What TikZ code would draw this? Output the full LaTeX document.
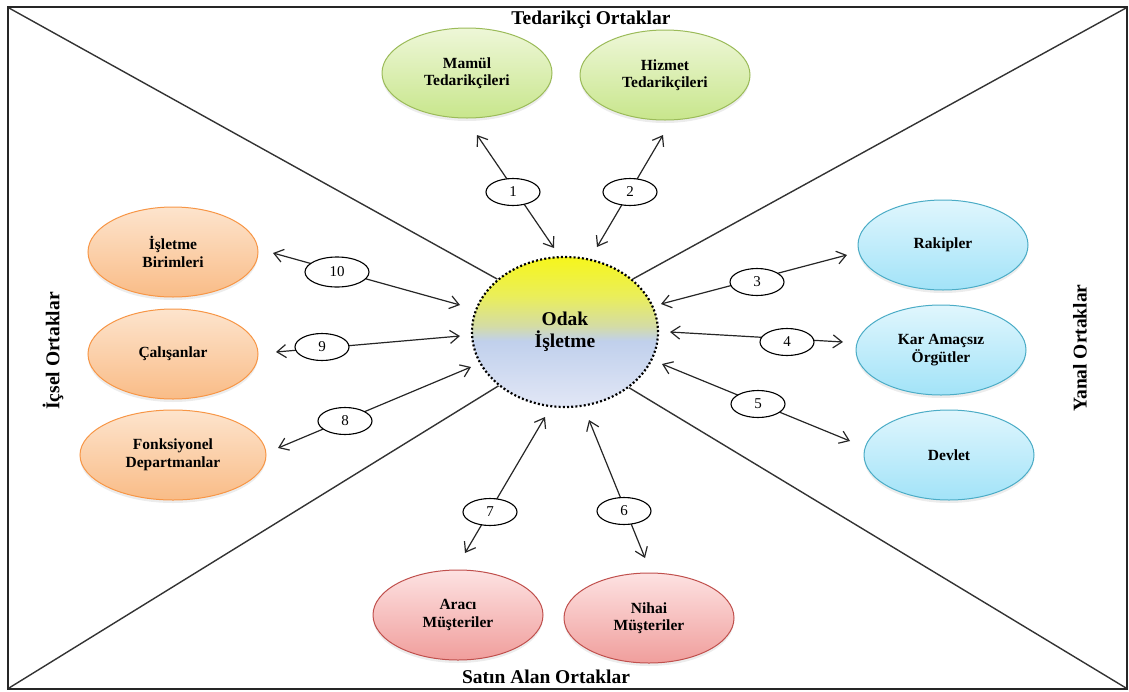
\documentclass[tikz,border=0pt]{standalone}
\usepackage{fontspec}
\setmainfont{Liberation Serif}
\usetikzlibrary{shapes.geometric,arrows.meta,shadows}

% palette
\definecolor{grtop}{RGB}{238,247,216}
\definecolor{grbot}{RGB}{200,230,140}
\definecolor{grline}{RGB}{155,187,89}
\definecolor{ortop}{RGB}{253,228,205}
\definecolor{orbot}{RGB}{249,188,135}
\definecolor{orline}{RGB}{247,150,70}
\definecolor{bltop}{RGB}{224,246,253}
\definecolor{blbot}{RGB}{162,227,248}
\definecolor{blline}{RGB}{75,172,198}
\definecolor{pktop}{RGB}{253,226,226}
\definecolor{pkbot}{RGB}{240,158,156}
\definecolor{pkline}{RGB}{192,80,77}
\definecolor{oy}{RGB}{246,246,28}
\definecolor{oy2}{RGB}{234,238,90}
\definecolor{og}{RGB}{212,220,165}
\definecolor{ob}{RGB}{192,208,236}
\definecolor{ob2}{RGB}{226,231,246}

% focal firm fill: yellow on top, pale blue below
\pgfdeclareverticalshading{odakshade}{100bp}{%
  color(0bp)=(ob2); color(25bp)=(ob2); color(47bp)=(ob);
  color(52bp)=(og); color(62bp)=(oy2); color(75bp)=(oy); color(100bp)=(oy)}

\tikzset{
  frame/.style={line width=1.5pt, draw=black!85},
  diag/.style={line width=1.4pt, draw=black!80},
  partner/.style={ellipse, minimum width=170pt, minimum height=90pt, inner sep=0pt,
    line width=1pt, align=center,
    font=\bfseries\fontsize{15.5}{17.5}\selectfont,
    drop shadow={opacity=0.15, shadow xshift=0pt, shadow yshift=-3pt}},
  green/.style={partner, draw=grline, top color=grtop, bottom color=grbot},
  orange/.style={partner, draw=orline, top color=ortop, bottom color=orbot},
  blue/.style={partner, draw=blline, top color=bltop, bottom color=blbot},
  pink/.style={partner, draw=pkline, top color=pktop, bottom color=pkbot},
  focal/.style={ellipse, minimum width=186pt, minimum height=150pt, inner sep=0pt,
    shading=odakshade, draw=black, line width=2.2pt, dash pattern=on 2pt off 2.2pt,
    align=center, font=\bfseries\fontsize{19.5}{22}\selectfont},
  numlbl/.style={ellipse, draw, line width=1.1pt, fill=white, inner sep=0pt,
    minimum width=54pt, minimum height=27pt, font=\fontsize{15}{15}\selectfont},
  biarrow/.style={line width=1.2pt, draw=black!85,
    {Straight Barb[length=9pt,width=13pt]}-{Straight Barb[length=9pt,width=13pt]}},
  heading/.style={font=\bfseries\fontsize{19.5}{22}\selectfont, inner sep=0pt}
}

\begin{document}
\begin{tikzpicture}[x=1pt, y=-1pt]
\useasboundingbox (0,0) rectangle (1129,691);

% outer frame and its corners
\coordinate (tl) at (9,8);
\coordinate (tr) at (1126,8);
\coordinate (bl) at (9,688);
\coordinate (br) at (1126,688);
\draw[frame] (8,7) rectangle (1127,689);

% focal firm
\node[focal] (odak) at (565,332) {Odak\\İşletme};

% diagonals from the corners to the focal firm
\draw[diag] (tl) -- (odak.142.6);
\draw[diag] (tr) -- (odak.38.5);
\draw[diag] (bl) -- (odak.219.9);
\draw[diag] (br) -- (odak.319.8);

% group headings
\node[heading] (hsup) at (591,20) {Tedarikçi Ortaklar};
\node[heading] (hbuy) at (546,677) {Satın Alan Ortaklar};
\node[heading, rotate=90] (hint) at (53,351) {İçsel Ortaklar};
\node[heading, rotate=90] (hlat) at (1080,348) {Yanal Ortaklar};

% partners
\node[green] (mamul) at (467,73) {Mamül\\Tedarikçileri};
\node[green] (hizmet) at (665,75) {Hizmet\\Tedarikçileri};
\node[blue] (rakip) at (943,245) {Rakipler};
\node[blue] (kar) at (941,350) {Kar Amaçsız\\Örgütler};
\node[blue] (devlet) at (949,455) {Devlet};
\node[pink] (araci) at (458,615) {Aracı\\Müşteriler};
\node[pink] (nihai) at (649,618) {Nihai\\Müşteriler};
\node[orange] (birim) at (173,252) {İşletme\\Birimleri};
\node[orange] (calisan) at (173,354) {Çalışanlar};
\node[orange, minimum width=186pt] (fonk) at (173,455) {Fonksiyonel\\Departmanlar};

% relation ends
\coordinate (p1a) at (477,135);  \coordinate (p1b) at (554,248);
\coordinate (p2a) at (663,135);  \coordinate (p2b) at (597,247);
\coordinate (p3a) at (847,255);  \coordinate (p3b) at (661,304);
\coordinate (p4a) at (843,342);  \coordinate (p4b) at (670,332);
\coordinate (p5a) at (850,441);  \coordinate (p5b) at (662,364);
\coordinate (p6a) at (645,558);  \coordinate (p6b) at (589,420);
\coordinate (p7a) at (465,553);  \coordinate (p7b) at (545,417);
\coordinate (p8a) at (278,448);  \coordinate (p8b) at (471,367);
\coordinate (p9a) at (276,352);  \coordinate (p9b) at (460,336);
\coordinate (p10a) at (273,253); \coordinate (p10b) at (460,305);

\foreach \i in {1,...,10} {\draw[biarrow] (p\i a) -- (p\i b);}

% relation numbers
\node[numlbl] (n1) at (513,192) {1};
\node[numlbl] (n2) at (630,192) {2};
\node[numlbl] (n3) at (757,282) {3};
\node[numlbl] (n4) at (787,342) {4};
\node[numlbl] (n5) at (758,404) {5};
\node[numlbl] (n6) at (624,511) {6};
\node[numlbl] (n7) at (490,512) {7};
\node[numlbl] (n8) at (345,421) {8};
\node[numlbl] (n9) at (322,347) {9};
\node[numlbl, minimum width=64pt, minimum height=30pt] (n10) at (337,272) {10};
\end{tikzpicture}
\end{document}
